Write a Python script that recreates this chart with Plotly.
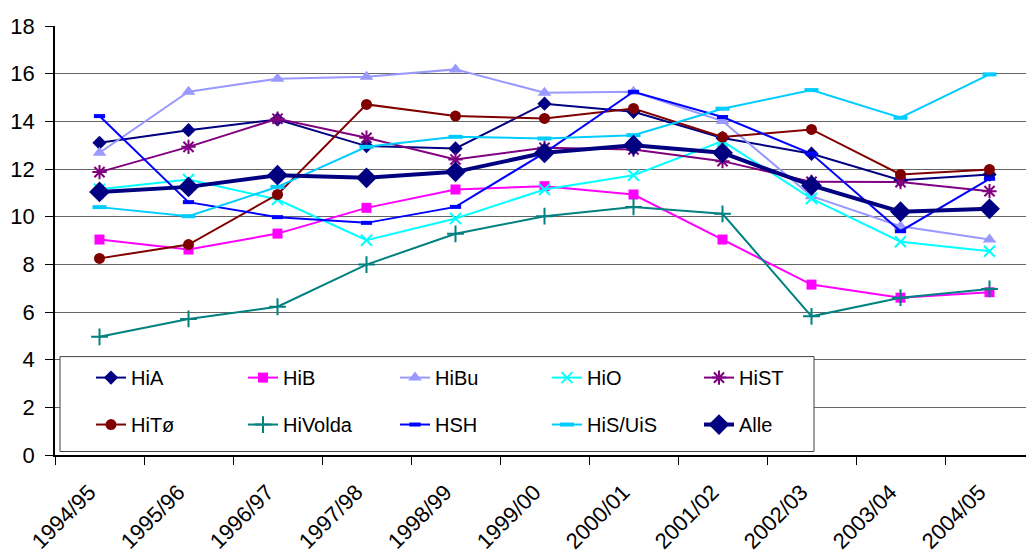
import plotly.graph_objects as go

years = ["1994/95", "1995/96", "1996/97", "1997/98", "1998/99", "1999/00",
         "2000/01", "2001/02", "2002/03", "2003/04", "2004/05"]

HiA = [13.10, 13.63, 14.08, 12.96, 12.86, 14.74, 14.40, 13.30, 12.64, 11.53, 11.77]
HiB = [9.04, 8.62, 9.29, 10.37, 11.14, 11.28, 10.93, 9.04, 7.15, 6.60, 6.83]
HiBu = [12.68, 15.24, 15.79, 15.87, 16.18, 15.20, 15.24, 14.01, 10.86, 9.60, 9.04]
HiO = [11.15, 11.56, 10.72, 9.01, 9.92, 11.14, 11.74, 13.17, 10.76, 8.95, 8.55]
HiST = [11.87, 12.93, 14.11, 13.31, 12.40, 12.89, 12.82, 12.33, 11.46, 11.45, 11.07]
HiTo = [8.25, 8.83, 10.93, 14.71, 14.22, 14.12, 14.54, 13.34, 13.66, 11.77, 11.98]
HiVolda = [4.96, 5.71, 6.22, 7.99, 9.28, 10.02, 10.41, 10.12, 5.82, 6.60, 6.97]
HSH = [14.22, 10.61, 9.98, 9.74, 10.41, 12.68, 15.24, 14.18, 12.64, 9.39, 11.59]
HiS_UiS = [10.40, 10.02, 11.25, 12.93, 13.35, 13.28, 13.42, 14.53, 15.31, 14.15, 15.97]
Alle = [11.04, 11.25, 11.74, 11.63, 11.88, 12.68, 13.00, 12.68, 11.31, 10.21, 10.33]

series = [
    ("HiA", HiA, "#000080", "diamond", 11, 2, "legend"),
    ("HiB", HiB, "#FF00FF", "square", 10, 2, "legend"),
    ("HiBu", HiBu, "#9999FF", "triangle-up", 12, 2, "legend"),
    ("HiO", HiO, "#00FFFF", "x-thin-open", 11, 2, "legend"),
    ("HiST", HiST, "#800080", "asterisk-open", 12, 2, "legend"),
    ("HiTø", HiTo, "#800000", "circle", 11, 2, "legend2"),
    ("HiVolda", HiVolda, "#008080", "cross-thin-open", 12, 2, "legend2"),
    ("HSH", HSH, "#0000FF", "line-ew-open", 8, 2, "legend2"),
    ("HiS/UiS", HiS_UiS, "#00CCFF", "line-ew-open", 10, 2, "legend2"),
    ("Alle", Alle, "#000080", "diamond", 16, 4, "legend2"),
]

fig = go.Figure()
for name, vals, col, sym, size, lw, leg in series:
    if sym.endswith("-open"):
        mline = dict(color=col, width=4 if sym.startswith("line") else 2)
    else:
        mline = dict(width=0)
    fig.add_trace(go.Scatter(
        x=years, y=vals, name=name, mode="lines+markers",
        line=dict(color=col, width=lw),
        marker=dict(symbol=sym, size=size, color=col, line=mline),
        legend=leg,
    ))

W, H = 1026, 554
ml, mt, mb = 55, 26, 98.5
pw = W - ml
ph = H - mt - mb

def px_x(x):
    return (x - ml) / pw

def px_y(y):
    return (H - mb - y) / ph

fig.add_shape(type="rect", xref="paper", yref="paper",
              x0=px_x(60), x1=px_x(814), y0=px_y(452), y1=px_y(357),
              line=dict(color="#404040", width=1), fillcolor="white", layer="above")

legfont = dict(family="Liberation Sans, Arial, sans-serif", size=20, color="black")
fig.update_layout(
    width=W, height=H,
    margin=dict(l=ml, r=0, t=mt, b=mb, pad=0),
    paper_bgcolor="white", plot_bgcolor="white",
    font=dict(family="Liberation Sans, Arial, sans-serif", size=20, color="black"),
    legend=dict(orientation="h", x=px_x(91), y=px_y(378), xanchor="left", yanchor="middle",
                entrywidth=107, entrywidthmode="pixels", font=legfont,
                bgcolor="rgba(0,0,0,0)", borderwidth=0, traceorder="normal"),
    legend2=dict(orientation="h", x=px_x(91), y=px_y(425), xanchor="left", yanchor="middle",
                 entrywidth=107, entrywidthmode="pixels", font=legfont,
                 bgcolor="rgba(0,0,0,0)", borderwidth=0, traceorder="normal"),
    showlegend=True,
)
fig.update_xaxes(
    type="category", range=[-0.5, -0.5 + pw / 89.0],
    tickson="boundaries", ticks="outside", ticklen=8, tickcolor="#000000",
    showline=True, linecolor="#000000", linewidth=1.5,
    showgrid=False, tickangle=-45, tickfont=dict(size=22), zeroline=False,
    ticklabelstandoff=14, ticklabelshift=-10,
)
fig.update_yaxes(
    range=[0, 18], dtick=2, tick0=0, ticks="outside", ticklen=8, tickcolor="#000000",
    showline=True, linecolor="#000000", linewidth=1.5,
    showgrid=True, gridcolor="#666666", gridwidth=1, zeroline=False,
    tickfont=dict(size=22), ticklabelstandoff=6,
)

fig.write_html("out.html")
